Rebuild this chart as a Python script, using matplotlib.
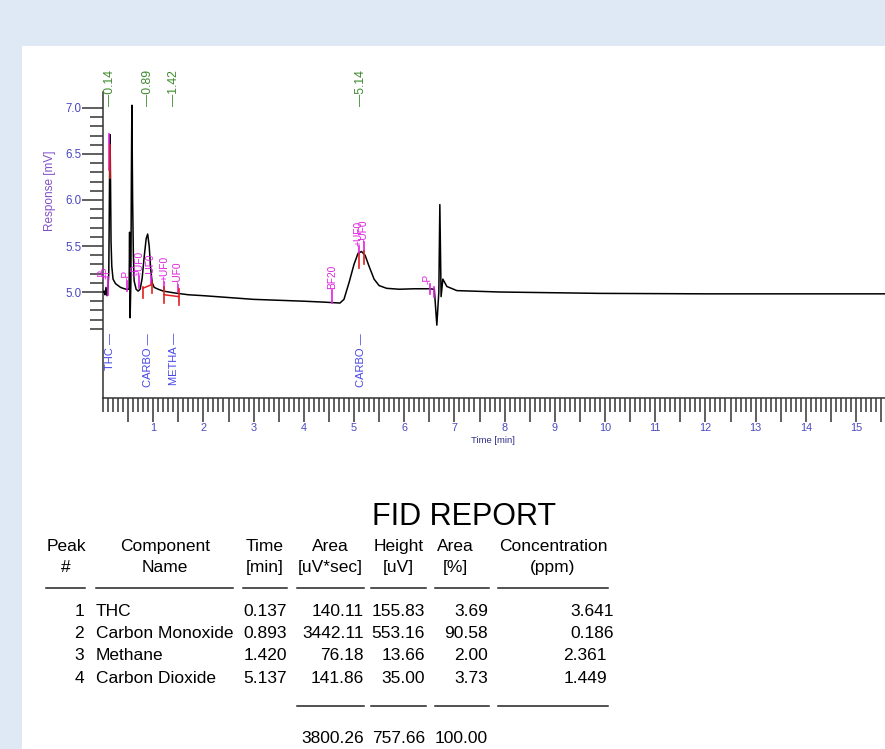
import matplotlib
matplotlib.use('Agg')
import matplotlib.pyplot as plt
import numpy as np
from matplotlib import font_manager
from matplotlib.lines import Line2D
from matplotlib.patches import Rectangle
from matplotlib.ticker import FixedLocator, FixedFormatter

plt.rcParams['font.family'] = ['Liberation Sans', 'DejaVu Sans']

# ---------------- data ----------------
time_min = [0.000, 0.020, 0.040, 0.060, 0.080, 0.100, 0.115, 0.130, 0.140, 0.150,
            0.160, 0.175, 0.200, 0.250, 0.300, 0.350, 0.400, 0.460, 0.520, 0.530,
            0.540, 0.555, 0.565, 0.575, 0.590, 0.605, 0.620, 0.660, 0.700, 0.740,
            0.780, 0.820, 0.860, 0.890, 0.920, 0.950, 0.980, 1.020, 1.100, 1.200,
            1.420, 1.700, 2.000, 2.500, 3.000, 3.500, 4.000, 4.400, 4.720, 4.800,
            4.900, 5.000, 5.080, 5.150, 5.220, 5.300, 5.400, 5.500, 5.650, 5.900,
            6.200, 6.500, 6.600, 6.650, 6.690, 6.710, 6.735, 6.770, 6.850, 7.050,
            7.900, 9.900, 12.000, 15.580]
response_mv = [5.00, 5.01, 4.97, 5.05, 4.96, 5.06, 5.20, 6.20, 6.71, 6.20,
               5.55, 5.28, 5.14, 5.09, 5.07, 5.05, 5.04, 5.03, 5.03, 5.65,
               4.72, 5.10, 6.20, 7.03, 6.00, 5.40, 5.12, 5.03, 5.01, 5.03,
               5.15, 5.38, 5.58, 5.63, 5.50, 5.25, 5.10, 5.05, 5.03, 5.01,
               4.99, 4.97, 4.96, 4.94, 4.92, 4.91, 4.90, 4.89, 4.88, 4.92,
               5.10, 5.30, 5.42, 5.44, 5.40, 5.28, 5.14, 5.07, 5.04, 5.03,
               5.035, 5.035, 5.03, 4.64, 5.00, 5.95, 4.95, 5.14, 5.06, 5.015,
               5.00, 4.985, 4.98, 4.98]

peak_nums = [1, 2, 3, 4]
components = ["THC", "Carbon Monoxide", "Methane", "Carbon Dioxide"]
short_names = ["THC", "CARBO", "METHA", "CARBO"]
ret_times = [0.137, 0.893, 1.420, 5.137]
areas = [140.11, 3442.11, 76.18, 141.86]
heights = [155.83, 553.16, 13.66, 35.00]
area_pct = [3.69, 90.58, 2.00, 3.73]
concentrations = [3.641, 0.186, 2.361, 1.449]
total_area = 3800.26
total_height = 757.66
total_pct = 100.00

# integration event labels (text, time)
event_labels = ["-P", "+P", "-P", "+P", "+UF0", "-UF0", "+UF0", "-UF0", "BF20", "+UF0", "-UF0", "-P"]
event_times = [0.00, 0.07, 0.47, 0.64, 0.73, 0.95, 1.22, 1.49, 4.56, 5.09, 5.19, 6.47]
event_levels = [5.14, 5.14, 5.13, 5.16, 5.17, 5.17, 5.12, 5.09, 5.03, 5.50, 5.54, 5.09]

# ---------------- figure ----------------
W, H = 885, 749
fig = plt.figure(figsize=(W / 100, H / 100), dpi=100)
fig.patch.set_facecolor('#dee9f5')
fig.add_artist(Rectangle((22 / W, 0), 1 - 22 / W, 1 - 46 / H, transform=fig.transFigure,
                         facecolor='white', edgecolor='none', zorder=0))

ax = fig.add_axes([103 / W, 1 - 398 / H, 782 / W, 306 / H])
ax.set_facecolor('none')
ax.plot(time_min, response_mv, color='black', lw=1.1, zorder=3)
ax.set_xlim(0, 782 / 50.2)
ax.set_ylim(5 + (292 - 398) / 92, 5 + (292 - 92) / 92)

for s in ['top', 'right']:
    ax.spines[s].set_visible(False)
for s in ['left', 'bottom']:
    ax.spines[s].set_color('#333333')
    ax.spines[s].set_linewidth(1.1)

tick_col = '#333333'
lab_col = '#4848c0'
ymaj = [5.0, 5.5, 6.0, 6.5, 7.0]
ymin = [round(4.6 + 0.1 * i, 1) for i in range(25)]
ymin = [v for v in ymin if v not in ymaj]
ax.yaxis.set_major_locator(FixedLocator(ymaj))
ax.yaxis.set_major_formatter(FixedFormatter([f"{v:.1f}" for v in ymaj]))
ax.yaxis.set_minor_locator(FixedLocator(ymin))
ax.tick_params(axis='y', which='major', length=15, width=1.1, color=tick_col,
               labelcolor=lab_col, labelsize=8.3, pad=0.5)
ax.tick_params(axis='y', which='minor', length=9.5, width=1.1, color=tick_col)

xmaj = [0.5 * i for i in range(1, 32)]
xlabels = [str(int(v)) if float(v).is_integer() else '' for v in xmaj]
xmin = [round(0.1 * i, 1) for i in range(156)]
xmin = [v for v in xmin if round(v * 2, 6) != round(round(v * 2)) or v == 0.0]
ax.xaxis.set_major_locator(FixedLocator(xmaj))
ax.xaxis.set_major_formatter(FixedFormatter(xlabels))
ax.xaxis.set_minor_locator(FixedLocator(xmin))
ax.tick_params(axis='x', which='major', length=17, width=1.1, color=tick_col,
               labelcolor=lab_col, labelsize=7.8, pad=1)
ax.tick_params(axis='x', which='minor', length=10, width=1.1, color=tick_col)

fig.text(50 / W, 1 - 191 / H, 'Response [mV]', rotation=90, color='#8050c8',
         fontsize=8.5, ha='center', va='center')
fig.text(493 / W, 1 - 441 / H, 'Time [min]', fontsize=6.8, color='#303088',
         ha='center', va='center')

# retention time labels (green, top) and component labels (blue, bottom)
for rt, nm in zip(ret_times, short_names):
    ax.text(rt, 7.02, "\u2014" + f"{rt:.2f}", rotation=90, ha='center', va='bottom',
            color='#3e8a2e', fontsize=8.8, clip_on=False)
    ax.text(rt, 4.555, nm + " \u2014", rotation=90, ha='center', va='top',
            color='#4646e6', fontsize=8, clip_on=False)

# integration events (magenta)
mag = '#e020e0'
for lab, t, lv in zip(event_labels, event_times, event_levels):
    ax.text(t, lv, lab, rotation=90, ha='center', va='bottom', color=mag,
            fontsize=7.3, clip_on=False, zorder=4)

mag_segs = [(0.09, 5.16, 4.97), (0.12, 6.72, 6.33), (0.47, 5.12, 5.01), (0.72, 5.17, 5.04),
            (0.95, 5.17, 5.09), (1.22, 5.11, 5.03), (1.49, 5.08, 5.00), (4.56, 5.02, 4.88),
            (5.09, 5.50, 5.41), (5.19, 5.54, 5.45), (6.51, 5.09, 4.98), (6.59, 5.05, 4.95)]
for t, a, b in mag_segs:
    ax.plot([t, t], [a, b], color=mag, lw=1.2, zorder=4)

red = '#e02020'
red_segs = [(0.13, 6.60, 6.24), (0.79, 5.05, 4.93), (0.97, 5.11, 4.99), (1.22, 5.05, 4.88),
            (1.51, 5.03, 4.86), (5.10, 5.41, 5.26), (5.20, 5.45, 5.30)]
for t, a, b in red_segs:
    ax.plot([t, t], [a, b], color=red, lw=1.2, zorder=4)
ax.plot([0.79, 0.97], [5.04, 5.08], color=red, lw=1.1, zorder=4)
ax.plot([1.22, 1.51], [4.97, 4.95], color=red, lw=1.1, zorder=4)

# ---------------- report table ----------------
def ftxt(x, y, s, **kw):
    fig.text(x / W, 1 - y / H, s, **kw)

def fline(x0, x1, y):
    fig.add_artist(Line2D([x0 / W, x1 / W], [1 - y / H, 1 - y / H], transform=fig.transFigure,
                          color='#222222', lw=1.1))

names = {f.name for f in font_manager.fontManager.ttflist}
if 'Liberation Sans Narrow' in names:
    ftxt(464, 525, 'FID REPORT', fontsize=27, family='Liberation Sans Narrow', ha='center', va='baseline')
else:
    ftxt(464, 525, 'FID REPORT', fontsize=22, ha='center', va='baseline')

fs = 12.5
headers = [(66, "Peak", "#"), (165, "Component", "Name"), (265, "Time", "[min]"),
           (330, "Area", "[uV*sec]"), (398.5, "Height", "[uV]"), (455, "Area", "[%]"),
           (553, "Concentration", "(ppm)")]
for x, l1, l2 in headers:
    ftxt(x, 551, l1, fontsize=fs, ha='center', va='baseline')
    ftxt(x, 572, l2, fontsize=fs, ha='center', va='baseline')

head_lines = [(46, 85), (96, 233), (243, 287), (297, 364), (371, 426), (435, 489), (498, 608)]
for a, b in head_lines:
    fline(a, b, 588)

row_base = [616, 638, 660, 683]
conc_right = [614, 614, 607, 607]
for i in range(4):
    yb = row_base[i]
    ftxt(84, yb, str(peak_nums[i]), fontsize=fs, ha='right', va='baseline')
    ftxt(96, yb, components[i], fontsize=fs, ha='left', va='baseline')
    ftxt(287, yb, f"{ret_times[i]:.3f}", fontsize=fs, ha='right', va='baseline')
    ftxt(364, yb, f"{areas[i]:.2f}", fontsize=fs, ha='right', va='baseline')
    ftxt(425, yb, f"{heights[i]:.2f}", fontsize=fs, ha='right', va='baseline')
    ftxt(488, yb, f"{area_pct[i]:.2f}", fontsize=fs, ha='right', va='baseline')
    ftxt(conc_right[i], yb, f"{concentrations[i]:.3f}", fontsize=fs, ha='right', va='baseline')

for a, b in head_lines[3:]:
    fline(a, b, 706)

ftxt(364, 743, f"{total_area:.2f}", fontsize=fs, ha='right', va='baseline')
ftxt(425, 743, f"{total_height:.2f}", fontsize=fs, ha='right', va='baseline')
ftxt(488, 743, f"{total_pct:.2f}", fontsize=fs, ha='right', va='baseline')

fig.savefig('out.png', dpi=100)
